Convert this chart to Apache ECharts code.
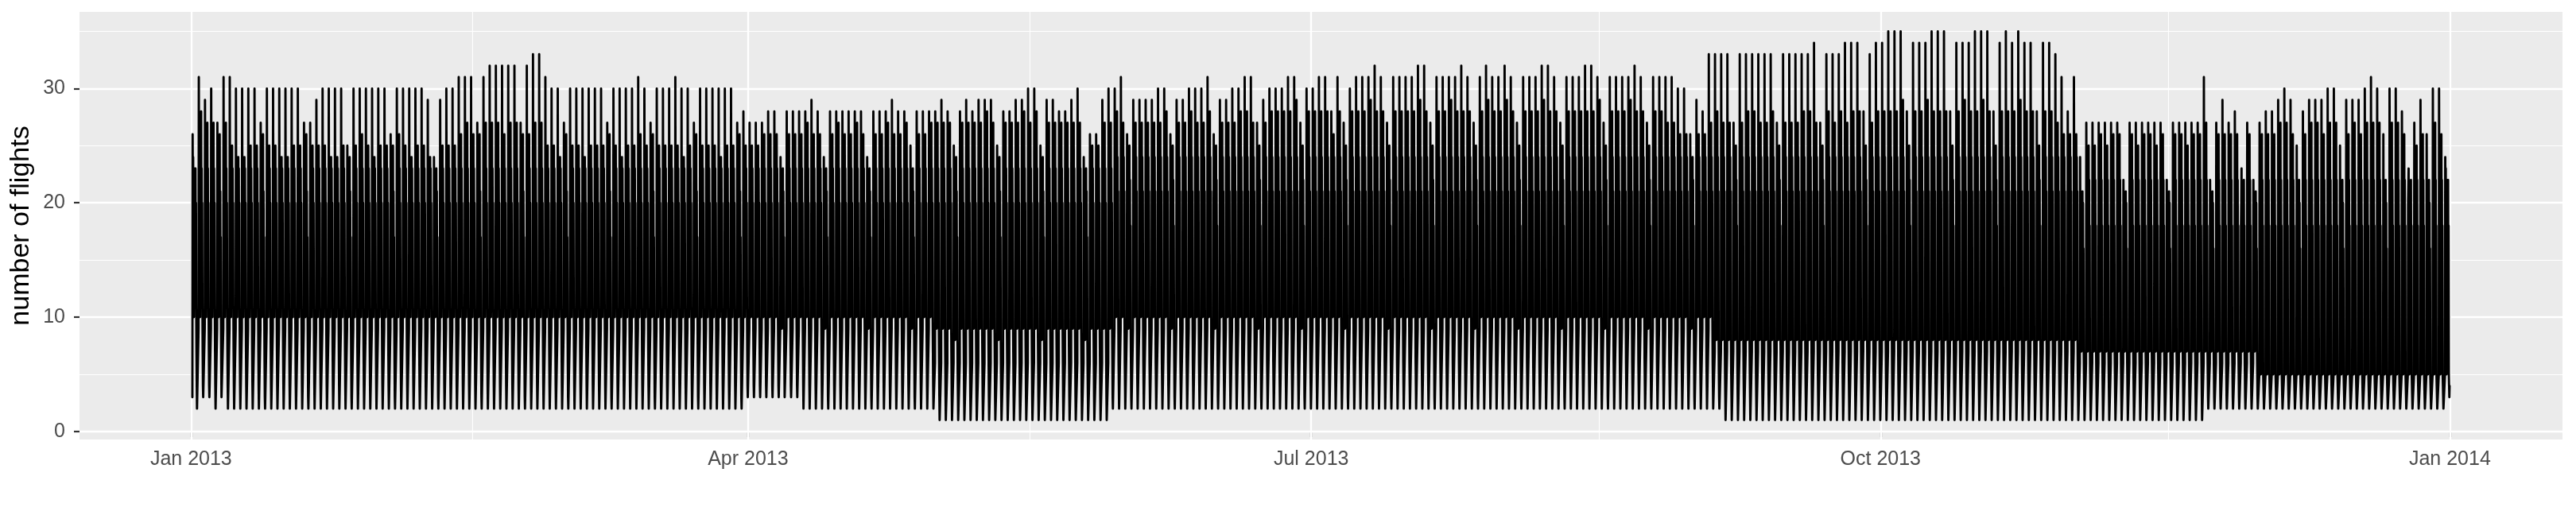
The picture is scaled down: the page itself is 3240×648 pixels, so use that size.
<!DOCTYPE html>
<html>
<head>
<meta charset="utf-8">
<script src="https://cdn.jsdelivr.net/npm/echarts@6/dist/echarts.min.js"></script>
<style>html,body{margin:0;padding:0;background:#fff}#c{width:3240px;height:648px}</style>
</head>
<body>
<div id="c"></div>
<script>
// ---- data ----
// day 0 = Tue 2013-01-01 ; one row per week (Tue..Mon)
const dailyPeak = [
26,31,29,30,27,31,31, 30,30,30,30,27,30,30, 30,30,30,30,27,27,29, 30,30,30,30,25,30,30,
30,30,30,30,26,30,30, 30,30,30,29,24,29,30, 30,31,31,31,27,31,32, 32,32,32,32,27,32,33,
33,31,30,30,27,30,30, 30,30,30,30,27,30,30, 30,30,31,30,27,30,30, 30,31,30,30,27,30,30,
30,30,30,30,27,28,27, 27,27,28,28,24,28,28, 28,28,29,28,24,28,28, 28,28,28,28,24,28,28,
28,29,28,28,25,28,28, 28,28,29,28,25,28,29, 28,29,29,29,25,28,28, 29,29,30,30,25,29,29,
28,28,29,30,24,26,26, 29,30,30,31,26,29,29, 29,29,30,30,26,29,29, 30,30,30,31,26,29,29,
30,30,31,31,27,29,30, 30,30,31,31,27,30,30, 31,31,28,31,27,30,31, 31,31,32,31,27,31,31,
31,31,32,32,27,31,31, 31,31,32,31,27,31,32, 31,31,32,31,27,31,31, 31,32,32,31,27,31,31,
31,32,32,31,27,31,31, 31,31,32,31,27,31,31, 31,31,30,30,26,29,28, 33,33,33,33,27,33,33,
33,33,33,33,27,33,33, 33,33,33,34,27,33,33, 33,34,34,34,28,33,34, 34,35,35,35,28,34,34,
34,35,35,35,28,34,34, 34,35,35,35,28,34,35, 34,35,34,34,28,34,34, 33,31,28,31,24,27,27,
27,27,27,27,22,27,27, 27,27,27,27,22,27,27, 27,27,27,31,22,27,29, 27,28,18,27,22,27,28,
28,29,30,29,25,28,29, 29,29,30,30,25,29,29, 29,30,31,30,26,30,30, 28,20,27,29,26,30,30,
24
];
const afternoonPeak = [
23,28,27,27,26,27,25, 24,24,25,25,26,25,25, 24,24,25,25,26,25,25, 25,24,24,25,24,25,26,
25,24,25,25,25,26,25, 24,25,25,24,23,25,25, 25,26,27,26,26,27,27, 27,26,27,27,26,26,27,
27,25,25,24,26,25,25, 24,25,25,25,26,25,24, 25,25,26,25,26,25,25, 25,25,24,25,26,25,25,
25,24,25,25,26,25,25, 25,26,26,26,23,26,26, 26,27,26,26,23,26,27, 26,26,27,26,23,26,26,
27,26,26,27,23,26,26, 27,27,27,27,24,27,27, 27,27,28,27,24,27,27, 27,28,27,28,24,27,27,
27,27,27,27,23,25,25, 27,27,28,27,25,27,27, 27,27,27,28,25,27,27, 28,27,27,28,25,27,27,
27,28,28,27,25,27,28, 28,28,28,29,25,28,28, 28,28,26,28,25,28,28, 28,29,28,28,25,28,28,
28,28,29,28,25,28,28, 29,28,28,28,25,28,29, 28,28,29,28,25,28,28, 28,29,28,28,25,28,28,
28,28,28,29,25,28,28, 28,29,28,28,25,28,28, 27,27,26,26,24,26,26, 27,28,27,27,25,27,28,
28,27,27,28,25,27,27, 27,28,28,27,25,28,27, 28,27,28,28,25,27,28, 28,28,28,29,25,28,28,
29,28,28,28,25,28,29, 28,28,29,28,25,28,28, 28,29,28,28,25,28,28, 27,26,26,26,21,25,25,
26,25,26,26,21,26,25, 26,26,25,26,21,26,26, 25,26,26,27,21,26,26, 26,26,16,26,21,26,26,
26,27,27,26,22,26,27, 27,26,27,27,22,26,27, 26,27,27,27,22,27,27, 26,18,25,26,22,27,26,
22
];
const lateNightLow = [
2,3,3,2,3,2,2, 2,2,2,2,2,2,2, 2,2,2,2,2,2,2, 2,2,2,2,2,2,2,
2,2,2,2,2,2,2, 2,2,2,2,2,2,2, 2,2,2,2,2,2,2, 2,2,2,2,2,2,2,
2,2,2,2,2,2,2, 2,2,2,2,2,2,2, 2,2,2,2,2,2,2, 2,2,2,2,2,2,2,
2,2,2,2,2,3,3, 3,3,3,3,3,3,3, 2,2,2,2,2,2,2, 2,2,2,2,2,2,2,
2,2,2,2,2,2,2, 2,1,1,1,1,1,1, 1,1,1,1,1,1,1, 1,1,1,1,1,1,1,
1,1,1,1,1,1,1, 1,2,2,2,2,2,2, 2,2,2,2,2,2,2, 2,2,2,2,2,2,2,
2,2,2,2,2,2,2, 2,2,2,2,2,2,2, 2,2,2,2,2,2,2, 2,2,2,2,2,2,2,
2,2,2,2,2,2,2, 2,2,2,2,2,2,2, 2,2,2,2,2,2,2, 2,2,2,2,2,2,2,
2,2,2,2,2,2,2, 2,2,2,2,2,2,2, 2,2,2,2,2,2,2, 2,2,1,1,1,1,1,
1,1,1,1,1,1,1, 1,1,1,1,1,1,1, 1,1,1,1,1,1,1, 1,1,1,1,1,1,1,
1,1,1,1,1,1,1, 1,1,1,1,1,1,1, 1,1,1,1,1,1,1, 1,1,1,1,1,1,1,
1,1,1,1,1,1,1, 1,1,1,1,1,1,1, 1,1,1,2,2,2,2, 2,2,2,2,2,2,2,
2,2,2,2,2,2,2, 2,2,2,2,2,2,2, 2,2,2,2,2,2,2, 2,2,2,2,2,2,2,
4
];
// typical hourly counts, hours 05..23, per period (weekday / saturday);
// the 06h, 15h and 23h slots are taken from the daily arrays above
const periodStartDay = [0, 90, 120, 149, 246, 305, 334];
const weekdayHours = [
  [9, 0, 20, 24, 12, 20, 10, 19, 12, 22, 0, 13, 23, 15, 20, 11, 7, 4, 0],
  [9, 0, 20, 24, 11, 20, 10, 19, 12, 22, 0, 13, 23, 15, 20, 10, 7, 4, 0],
  [6, 0, 21, 24, 10, 20, 9, 19, 11, 22, 0, 12, 23, 14, 20, 9, 6, 3, 0],
  [9, 0, 21, 25, 11, 21, 10, 20, 12, 23, 0, 13, 24, 15, 21, 10, 6, 4, 0],
  [7, 0, 22, 24, 9, 21, 8, 20, 11, 23, 0, 12, 24, 14, 21, 8, 5, 3, 0],
  [6, 0, 20, 23, 8, 19, 7, 18, 10, 21, 0, 11, 22, 12, 18, 7, 5, 3, 0],
  [5, 0, 20, 23, 7, 19, 5, 18, 9, 21, 0, 10, 22, 12, 18, 5, 4, 3, 0]
];
const saturdayHours = [
  [9, 0, 18, 22, 11, 18, 10, 17, 11, 20, 0, 12, 21, 13, 17, 10, 6, 3, 0],
  [9, 0, 18, 21, 10, 18, 9, 17, 11, 20, 0, 12, 21, 13, 17, 9, 6, 3, 0],
  [6, 0, 18, 21, 9, 18, 8, 17, 10, 20, 0, 11, 21, 12, 17, 8, 5, 3, 0],
  [9, 0, 19, 22, 10, 19, 9, 18, 11, 21, 0, 12, 22, 13, 18, 9, 6, 3, 0],
  [7, 0, 19, 22, 9, 19, 8, 18, 10, 21, 0, 11, 22, 12, 18, 8, 5, 3, 0],
  [6, 0, 17, 20, 8, 17, 7, 16, 9, 19, 0, 10, 20, 11, 16, 7, 5, 3, 0],
  [5, 0, 17, 20, 7, 17, 5, 16, 8, 19, 0, 9, 20, 11, 16, 5, 4, 3, 0]
];
const xTickLabels = ['Jan 2013', 'Apr 2013', 'Jul 2013', 'Oct 2013', 'Jan 2014'];
const xTickDates = [[2013,0,1],[2013,3,1],[2013,6,1],[2013,9,1],[2014,0,1]];
const xMinorDates = [[2013,1,15,12],[2013,4,16,12],[2013,7,16,12],[2013,10,16,12]];
const yTicks = [0, 10, 20, 30];
const yMinorTicks = [5, 15, 25, 35];

// ---- build series ----
const points = [];
for (let d = 0; d < dailyPeak.length; d++) {
  let p = 0;
  for (let i = 0; i < periodStartDay.length; i++) if (d >= periodStartDay[i]) p = i;
  const prof = (d % 7 === 4) ? saturdayHours[p] : weekdayHours[p];
  for (let i = 0; i < 19; i++) {
    let v = prof[i];
    if (i === 1) v = dailyPeak[d];
    if (i === 10) v = afternoonPeak[d];
    if (i === 18) v = lateNightLow[d];
    if (d === 0 && i === 0) v = 3;
    points.push([Date.UTC(2013, 0, 1 + d, 5 + i), v]);
  }
}
const tFirst = points[0][0], tLast = points[points.length - 1][0];
const pad = (tLast - tFirst) * 0.05;
let vMin = Infinity, vMax = -Infinity;
points.forEach(q => { vMin = Math.min(vMin, q[1]); vMax = Math.max(vMax, q[1]); });
const vPad = (vMax - vMin) * 0.05;

const xTicks = xTickDates.map(a => Date.UTC(a[0], a[1], a[2]));
const xMinor = xMinorDates.map(a => Date.UTC(a[0], a[1], a[2], a[3]));
const FONT = 'Liberation Sans, Arial, Helvetica, sans-serif';

const gridMarks = [];
yMinorTicks.forEach(v => gridMarks.push({yAxis: v, lineStyle: {width: 1.1}}));
xMinor.forEach(v => gridMarks.push({xAxis: v, lineStyle: {width: 1.1}}));
yTicks.forEach(v => gridMarks.push({yAxis: v, lineStyle: {width: 2.3}}));
xTicks.forEach(v => gridMarks.push({xAxis: v, lineStyle: {width: 2.3}}));

function labelFor(v) {
  let best = -1, bd = Infinity;
  xTicks.forEach((t, i) => { const dd = Math.abs(t - v); if (dd < bd) { bd = dd; best = i; } });
  return bd < 3600000 ? xTickLabels[best] : '';
}

const chart = echarts.init(document.getElementById('c'), null, {renderer: 'canvas'});
chart.setOption({
  animation: false,
  backgroundColor: '#ffffff',
  grid: {left: 100, right: 17, top: 15, bottom: 95, show: true, backgroundColor: '#EBEBEB', borderWidth: 0},
  xAxis: {
    type: 'value', min: tFirst - pad, max: tLast + pad, scale: true,
    axisLine: {show: false},
    axisTick: {show: true, customValues: xTicks, length: 7, lineStyle: {color: '#333333', width: 2.2}},
    axisLabel: {customValues: xTicks, color: '#4D4D4D', fontSize: 25, fontFamily: FONT, margin: 13,
      formatter: labelFor},
    splitLine: {show: false}
  },
  yAxis: {
    type: 'value', min: vMin - vPad, max: vMax + vPad,
    axisLine: {show: false},
    axisTick: {show: true, customValues: yTicks, length: 7, lineStyle: {color: '#333333', width: 2.2}},
    axisLabel: {customValues: yTicks, color: '#4D4D4D', fontSize: 25, fontFamily: FONT, margin: 18},
    splitLine: {show: false},
    name: 'number of flights', nameLocation: 'middle', nameGap: 50,
    nameTextStyle: {fontSize: 34, color: '#000000', fontFamily: FONT}
  },
  series: [
    {type: 'line', data: [], z: 1, silent: true,
     markLine: {z: 1, silent: true, symbol: ['none', 'none'], label: {show: false}, animation: false,
       lineStyle: {type: 'solid', color: '#ffffff'}, emphasis: {disabled: true}, data: gridMarks}},
    {type: 'line', data: points, z: 3, showSymbol: false, sampling: false, silent: true,
     lineStyle: {color: '#000000', width: 2.9, join: 'round', cap: 'round'}}
  ]
});
</script>
</body>
</html>
